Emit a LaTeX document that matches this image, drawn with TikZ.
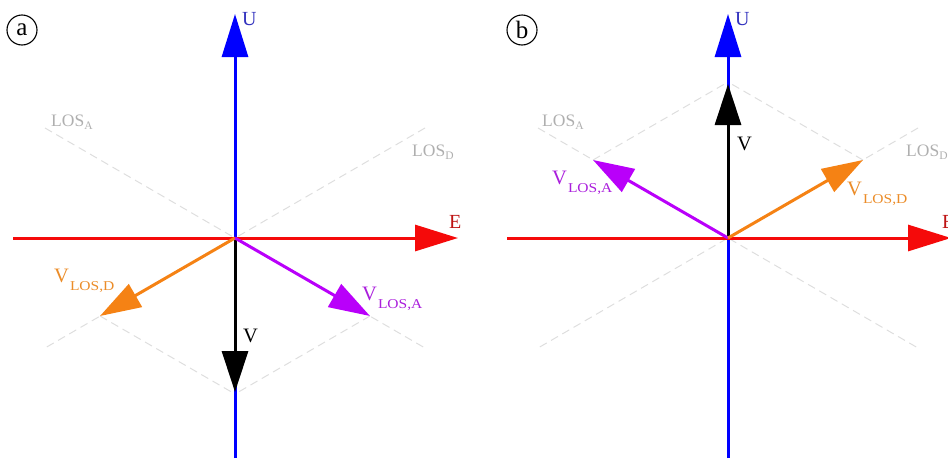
\documentclass[tikz,border=0pt]{standalone}
\usepackage{fontspec}
\setmainfont{Liberation Serif}
\usepackage{graphicx}
\usetikzlibrary{arrows.meta}
\definecolor{axblue}{RGB}{0,0,255}
\definecolor{axred}{RGB}{245,10,10}
\definecolor{vorange}{RGB}{245,130,20}
\definecolor{vpurple}{RGB}{185,0,250}
\definecolor{ulab}{RGB}{50,50,190}
\definecolor{elab}{RGB}{190,20,20}
\definecolor{olab}{RGB}{235,140,40}
\definecolor{plab}{RGB}{170,30,220}
\definecolor{losgray}{RGB}{222,222,222}
\definecolor{loslab}{RGB}{175,175,175}
\newcommand{\vlos}[1]{V\kern1pt\raisebox{-8pt}{\scalebox{1.15}[1]{\fontsize{13.5}{13.5}\selectfont LOS,#1}}}
\newcommand{\loslab}[1]{LOS\raisebox{-3.5pt}{\fontsize{11.5}{11.5}\selectfont #1}}
\tikzset{
  axisarrow/.style={line width=3pt, -{Triangle[length=43pt,width=26pt]}},
  vecarrow/.style={line width=3pt, -{Triangle[length=41pt,width=26pt]}},
  losline/.style={draw=losgray, line width=1pt, dash pattern=on 8pt off 5pt},
  loslabel/.style={text=loslab, font=\fontsize{17.5}{17.5}\selectfont, inner sep=0pt, anchor=base west},
  axlabel/.style={font=\fontsize{20}{20}\selectfont, inner sep=0pt, anchor=base west},
  vlabel/.style={font=\fontsize{20.5}{20.5}\selectfont, inner sep=0pt, anchor=base west},
  panelmark/.style={draw, circle, line width=1.1pt, minimum size=30pt, inner sep=0pt, font=\fontsize{25}{25}\selectfont},
}
\begin{document}
\begin{tikzpicture}[x=1pt,y=-1pt]
\useasboundingbox (0,0) rectangle (948,461);
\clip (0,0) rectangle (948,461);
% ---------------- panel (a) ----------------
\coordinate (aO) at (235,238);
\coordinate (aUb) at (235,458);
\coordinate (aUt) at (235,14);
\coordinate (aEl) at (13,238);
\coordinate (aEr) at (458,238);
\coordinate (aD) at (100,316);
\coordinate (aA) at (370,316);
\coordinate (aV) at (235,392);
\coordinate (aVp) at (235,394);
\coordinate (aL1) at (45,128);
\coordinate (aL2) at (425,348);
\coordinate (aL3) at (425,128);
\coordinate (aL4) at (45,348);
\draw[losline] (aL1) -- (aL2);
\draw[losline] (aL3) -- (aL4);
\draw[losline] (aD) -- (aVp);
\draw[losline] (aA) -- (aVp);
\draw[axisarrow, axblue] (aUb) -- (aUt);
\draw[axisarrow, axred] (aEl) -- (aEr);
\draw[vecarrow, black] (aO) -- (aV);
\draw[vecarrow, vorange] (aO) -- (aD);
\draw[vecarrow, vpurple] (aO) -- (aA);
\node[panelmark] (pa) at (22,30) {a};
\node[axlabel, text=ulab] (aUlab) at (242,25) {U};
\node[axlabel, text=elab] (aElab) at (449,228) {E};
\node[vlabel] (aVlab) at (243,342) {V};
\node[vlabel, text=olab] (aDlab) at (54,282) {\vlos{D}};
\node[vlabel, text=plab] (aAlab) at (362,300) {\vlos{A}};
\node[loslabel] (aLA) at (51,126) {\loslab{A}};
\node[loslabel] (aLD) at (412,156) {\loslab{D}};
% ---------------- panel (b) ----------------
\coordinate (bO) at (728,238);
\coordinate (bUb) at (728,458);
\coordinate (bUt) at (728,14);
\coordinate (bEl) at (507,238);
\coordinate (bEr) at (951,238);
\coordinate (bA) at (593,160);
\coordinate (bD) at (863,160);
\coordinate (bV) at (728,84);
\coordinate (bVp) at (728,82);
\coordinate (bL1) at (538,128);
\coordinate (bL2) at (918,348);
\coordinate (bL3) at (918,128);
\coordinate (bL4) at (538,348);
\draw[losline] (bL1) -- (bL2);
\draw[losline] (bL3) -- (bL4);
\draw[losline] (bA) -- (bVp);
\draw[losline] (bD) -- (bVp);
\draw[axisarrow, axblue] (bUb) -- (bUt);
\draw[axisarrow, axred] (bEl) -- (bEr);
\draw[vecarrow, black] (bO) -- (bV);
\draw[vecarrow, vpurple] (bO) -- (bA);
\draw[vecarrow, vorange] (bO) -- (bD);
\node[panelmark] (pb) at (522,30) {b};
\node[axlabel, text=ulab] (bUlab) at (735,25) {U};
\node[axlabel, text=elab] (bElab) at (942,228) {E};
\node[vlabel] (bVlab) at (737,150) {V};
\node[vlabel, text=plab] (bAlab) at (552,184) {\vlos{A}};
\node[vlabel, text=olab] (bDlab) at (847,195) {\vlos{D}};
\node[loslabel] (bLA) at (542,126) {\loslab{A}};
\node[loslabel] (bLD) at (906,156) {\loslab{D}};
\end{tikzpicture}
\end{document}
